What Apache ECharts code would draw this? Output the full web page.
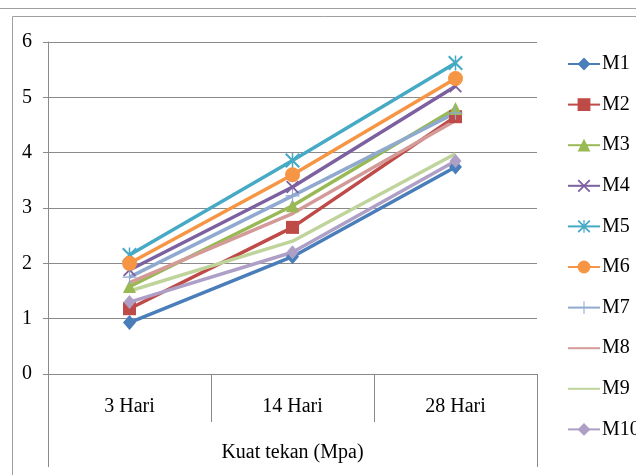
<!DOCTYPE html>
<html>
<head>
<meta charset="utf-8">
<script src="https://cdn.jsdelivr.net/npm/echarts@6/dist/echarts.min.js"></script>
<style>
  html, body { margin: 0; padding: 0; background: #fff; }
  #chart { width: 636px; height: 475px; }
</style>
</head>
<body>
<div id="chart"></div>
<script>
// Compressive strength (MPa) of mixes M1..M10 at 3, 14 and 28 days
const categories = ['3 Hari', '14 Hari', '28 Hari'];
const groupLabel = ['Kuat tekan (Mpa)'];
const seriesNames = ['M1', 'M2', 'M3', 'M4', 'M5', 'M6', 'M7', 'M8', 'M9', 'M10'];

const m1  = [0.93, 2.12, 3.74];
const m2  = [1.18, 2.65, 4.65];
const m3  = [1.58, 3.04, 4.80];
const m4  = [1.88, 3.38, 5.20];
const m5  = [2.15, 3.86, 5.62];
const m6  = [2.00, 3.60, 5.34];
const m7  = [1.75, 3.22, 4.72];
const m8  = [1.65, 2.90, 4.58];
const m9  = [1.50, 2.40, 3.98];
const m10 = [1.30, 2.20, 3.85];

const yTicks = [0, 1, 2, 3, 4, 5, 6];

const seriesValues = [m1, m2, m3, m4, m5, m6, m7, m8, m9, m10];

const colors = ['#4A7EBB', '#BE4B48', '#98B954', '#7D60A0', '#46AAC5',
                '#F69544', '#8FA9CF', '#D39A98', '#BFD49B', '#AE9FC7'];

// Marker shapes
const xMark = 'path://M0,10L10,0L100,90L90,100ZM90,0L100,10L10,100L0,90Z';
const starMark = 'path://M0,10L10,0L100,90L90,100ZM90,0L100,10L10,100L0,90ZM45,0L55,0L55,100L45,100Z';
const plusMark = 'path://M46,0L54,0L54,100L46,100ZM0,46L100,46L100,54L0,54Z';

const symbols = ['diamond', 'rect', 'triangle', xMark, starMark, 'circle', plusMark, 'none', 'none', 'diamond'];
const sizes = [[13, 15], 13, 13, 13, 15, 15, 14, 0, 0, [12, 14]];

const font = 'Liberation Serif, Times New Roman, serif';
const gridGrey = '#8A8A8A';

const chart = echarts.init(document.getElementById('chart'), null, { renderer: 'canvas' });

const series = seriesNames.map((name, i) => ({
  name,
  type: 'line',
  data: seriesValues[i],
  xAxisIndex: 0,
  symbol: symbols[i],
  symbolSize: sizes[i],
  showSymbol: symbols[i] !== 'none',
  lineStyle: { width: 3.5, color: colors[i] },
  itemStyle: { color: colors[i] },
  emphasis: { disabled: true },
  animation: false
}));

// Legend entries; mixes drawn without markers show only their line
const legendData = seriesNames.map((name, i) =>
  symbols[i] === 'none'
    ? { name, itemStyle: { opacity: 0 } }
    : { name });

chart.setOption({
  backgroundColor: '#fff',
  animation: false,
  grid: { left: 48, right: 99, top: 42, bottom: 101, containLabel: false },
  legend: {
    orient: 'vertical',
    left: 562,
    top: 48,
    itemWidth: 32,
    itemHeight: 16,
    itemGap: 18.6,
    textStyle: { fontFamily: font, fontSize: 20, color: '#000', lineHeight: 22, padding: [0, 0, 0, -3] },
    data: legendData
  },
  xAxis: [
    {
      type: 'category',
      data: categories,
      boundaryGap: true,
      axisLine: { show: true, lineStyle: { color: gridGrey, width: 1 } },
      axisTick: { show: true, length: 48, lineStyle: { color: gridGrey } },
      axisLabel: { fontFamily: font, fontSize: 20, color: '#000', margin: 23 },
      splitLine: { show: false }
    },
    {
      type: 'category',
      data: groupLabel,
      position: 'bottom',
      boundaryGap: true,
      axisLine: { show: false },
      axisTick: { show: true, length: 93, lineStyle: { color: gridGrey } },
      axisLabel: { fontFamily: font, fontSize: 20, color: '#000', margin: 69 },
      splitLine: { show: false }
    }
  ],
  yAxis: {
    type: 'value',
    min: yTicks[0],
    max: yTicks[yTicks.length - 1],
    interval: 1,
    axisLine: { show: true, lineStyle: { color: gridGrey } },
    axisTick: { show: true, length: 5, lineStyle: { color: gridGrey } },
    axisLabel: { fontFamily: font, fontSize: 20, color: '#000', margin: 16 },
    splitLine: { show: true, lineStyle: { color: gridGrey, width: 1 } }
  },
  graphic: [
    { type: 'line', shape: { x1: 0, y1: 8.5, x2: 636, y2: 8.5 }, style: { stroke: '#A0A0A0', lineWidth: 1 } },
    { type: 'rect', shape: { x: 12.5, y: 16.5, width: 700, height: 600 }, style: { fill: 'none', stroke: '#A0A0A0', lineWidth: 1 } }
  ],
  series
});
</script>
</body>
</html>
